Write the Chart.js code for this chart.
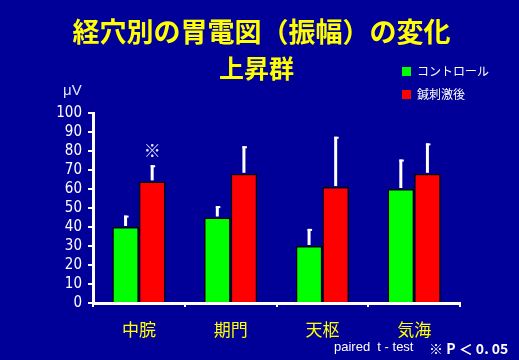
<!DOCTYPE html>
<html>
<head>
<meta charset="utf-8">
<script src="https://cdn.jsdelivr.net/npm/chart.js"></script>
<style>
  body { margin: 0; background: #000099; }
  #wrap { position: relative; width: 519px; height: 360px; overflow: hidden; }
  .t { position: absolute; white-space: nowrap; font-family: "Noto Sans CJK JP", sans-serif; }
  #title { left: 0; width: 523px; top: 13px; text-align: center; color: #ffff00; font-size: 27px; font-weight: bold; line-height: 36px; }
  #sub { left: 0; width: 513px; top: 50px; text-align: center; color: #ffff00; font-size: 25px; font-weight: bold; line-height: 34px; }
  .lg { color: #fff; font-size: 12px; line-height: 16px; left: 402px; }
  .lg i { display: inline-block; width: 9px; height: 9px; margin-right: 6px; }
  #unit { left: 63px; top: 81px; color: #dde6ff; font-size: 15px; font-family: "Liberation Sans", sans-serif; }
  #foot1 { left: 334px; top: 339px; color: #fff; font-size: 13px; font-family: "Liberation Sans", sans-serif; }
  #foot2 { left: 429px; top: 338px; color: #fff; font-size: 14px; font-weight: bold; }
</style>
</head>
<body>
<div id="wrap">
  <canvas id="c" width="519" height="360"></canvas>
  <div class="t" id="title">経穴別の胃電図（振幅）の変化</div>
  <div class="t" id="sub">上昇群</div>
  <div class="t lg" style="top:63px"><i style="background:#00ff00"></i>コントロール</div>
  <div class="t lg" style="top:86px"><i style="background:#ff0000"></i>鍼刺激後</div>
  <div class="t" id="unit">μV</div>
  <div class="t" id="foot1">paired&nbsp; t - test</div>
  <div class="t" id="foot2">※ P ＜ 0. 05</div>
</div>
<script>
const categories = ['中脘', '期門', '天枢', '気海'];
const controlValues = [40, 45, 30, 60];
const controlErr = [6, 6, 9, 15.5];
const afterValues = [64, 68, 61, 68];
const afterErr = [8.5, 14.5, 26.5, 16];
const sigMarks = ['※', '', '', ''];
const yTicks = [0, 10, 20, 30, 40, 50, 60, 70, 80, 90, 100];

const errorBars = {
  id: 'errorBars',
  afterDatasetsDraw(chart) {
    const ctx = chart.ctx;
    const y = chart.scales.y;
    chart.data.datasets.forEach((ds, i) => {
      const meta = chart.getDatasetMeta(i);
      meta.data.forEach((bar, j) => {
        const top = y.getPixelForValue(ds.data[j] + ds.err[j]);
        ctx.save();
        ctx.strokeStyle = '#ffffff';
        ctx.lineWidth = 3;
        ctx.beginPath();
        ctx.moveTo(bar.x, bar.y - 1);
        ctx.lineTo(bar.x, top);
        ctx.stroke();
        ctx.lineWidth = 2;
        ctx.beginPath();
        ctx.moveTo(bar.x - 1.5, top + 1);
        ctx.lineTo(bar.x + 3, top + 1);
        ctx.stroke();
        if (i === 1 && sigMarks[j]) {
          ctx.fillStyle = '#e8ecff';
          ctx.font = 'bold 17px "Noto Sans CJK JP"';
          ctx.textAlign = 'center';
          ctx.textBaseline = 'middle';
          ctx.fillText(sigMarks[j], bar.x, top - 15);
        }
        ctx.restore();
      });
    });
  }
};

new Chart(document.getElementById('c'), {
  type: 'bar',
  data: {
    labels: categories,
    datasets: [
      { label: 'コントロール', data: controlValues, err: controlErr, backgroundColor: '#00ff00' },
      { label: '鍼刺激後', data: afterValues, err: afterErr, backgroundColor: '#ff0000' }
    ]
  },
  options: {
    responsive: false,
    animation: false,
    layout: { padding: { top: 113, right: 59, left: 0, bottom: 0 } },
    datasets: {
      bar: {
        categoryPercentage: 0.58,
        barPercentage: 1,
        borderColor: '#000000',
        borderWidth: 1.5
      }
    },
    plugins: {
      legend: { display: false },
      tooltip: { enabled: false }
    },
    scales: {
      x: {
        afterFit(scale) { scale.height = 57; },
        grid: { drawOnChartArea: false, color: '#ffffff', lineWidth: 2, tickLength: 4 },
        border: { color: '#ffffff', width: 3 },
        ticks: {
          color: '#ffff00',
          padding: 12,
          font: { family: '"Noto Sans CJK JP"', size: 17 }
        }
      },
      y: {
        min: 0,
        max: 100,
        afterFit(scale) { scale.width = 93; },
        afterBuildTicks(scale) { scale.ticks = yTicks.map(v => ({ value: v })); },
        grid: { drawOnChartArea: false, color: '#ffffff', lineWidth: 2, tickLength: 5 },
        border: { color: '#ffffff', width: 3 },
        ticks: {
          autoSkip: false,
          stepSize: 10,
          color: '#ffffff',
          padding: 6,
          font: { family: '"Liberation Sans Narrow", "DejaVu Sans Condensed", sans-serif', size: 15 }
        }
      }
    }
  },
  plugins: [errorBars]
});
</script>
</body>
</html>
